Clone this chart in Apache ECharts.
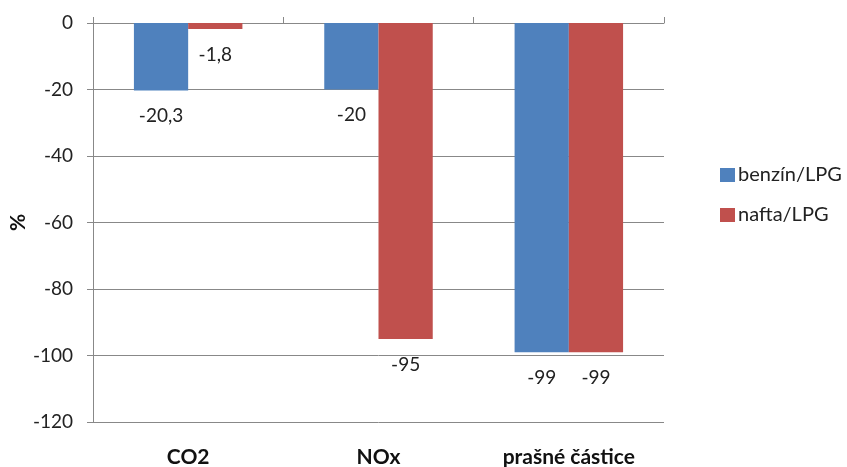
<!DOCTYPE html>
<html>
<head>
    <meta charset="utf-8">
    <script type="text/javascript" src="https://cdn.jsdelivr.net/npm/echarts@6/dist/echarts.min.js"></script>
</head>
<body style="margin:0;">

<div id="main" style="width: 847px;height:467px;"></div>

<script type="text/javascript">
    // data
    var categories = ['CO2', 'NOx', 'prašné částice'];
    var benzinLPG = [-20.3, -20, -99];
    var naftaLPG = [-1.8, -95, -99];
    var seriesNames = ['benzín/LPG', 'nafta/LPG'];

    var FONT = 'Lato, "Open Sans", sans-serif';

    function czNumber(p) {
        return String(p.value).replace('.', ',');
    }

    var myChart = echarts.init(document.getElementById('main'));

    var option = {
        backgroundColor: '#fff',
        textStyle: { fontFamily: FONT },
        grid: { left: 93, right: 183, top: 23, bottom: 45, containLabel: false, outerBoundsMode: 'none' },
        legend: {
            orient: 'vertical',
            left: 715,
            top: 160,
            itemWidth: 15,
            itemHeight: 14,
            itemGap: 20,
            icon: 'rect',
            textStyle: { fontFamily: FONT, fontSize: 20, color: '#222', padding: [0, 0, 0, -2] },
            data: seriesNames
        },
        xAxis: [
            {
                type: 'category',
                data: categories,
                position: 'bottom',
                axisLine: { show: false, onZero: false },
                axisTick: { show: false },
                axisLabel: { fontFamily: FONT, fontSize: 21, fontWeight: 'bold', color: '#111', margin: 25 }
            },
            {
                type: 'category',
                data: categories,
                position: 'bottom',
                axisLine: { show: true, onZero: true, lineStyle: { color: '#888', width: 1 } },
                axisTick: { show: true, inside: true, length: 6, lineStyle: { color: '#888' } },
                axisLabel: { show: false }
            }
        ],
        yAxis: [
            {
                type: 'value',
                min: -120,
                max: 0,
                interval: 20,
                axisLine: { show: true, lineStyle: { color: '#888' } },
                axisTick: { show: true, length: 6, lineStyle: { color: '#888' } },
                axisLabel: { fontFamily: FONT, fontSize: 19, color: '#222', margin: 20 },
                splitLine: { show: true, lineStyle: { color: '#888', width: 1 } }
            },
            {
                // only carries the axis title
                type: 'value',
                position: 'left',
                min: -120,
                max: 0,
                interval: 20,
                name: '%',
                nameLocation: 'middle',
                nameGap: 64,
                nameTextStyle: { fontFamily: FONT, fontSize: 21, fontWeight: 'bold', color: '#111' },
                axisLine: { show: false },
                axisTick: { show: false },
                axisLabel: { show: false },
                splitLine: { show: false }
            }
        ],
        series: [
            {
                name: seriesNames[0],
                type: 'bar',
                xAxisIndex: 0,
                yAxisIndex: 0,
                data: benzinLPG,
                barGap: '0%',
                barCategoryGap: '43%',
                itemStyle: { color: '#4F81BD' },
                label: {
                    show: true, position: 'bottom', distance: 16,
                    fontFamily: FONT, fontSize: 19, color: '#222',
                    formatter: czNumber
                }
            },
            {
                name: seriesNames[1],
                type: 'bar',
                xAxisIndex: 0,
                yAxisIndex: 0,
                data: naftaLPG,
                barGap: '0%',
                barCategoryGap: '43%',
                itemStyle: { color: '#C0504D' },
                label: {
                    show: true, position: 'bottom', distance: 16,
                    fontFamily: FONT, fontSize: 19, color: '#222',
                    formatter: czNumber
                }
            }
        ]
    };

    myChart.setOption(option);
</script>

</body>
</html>
